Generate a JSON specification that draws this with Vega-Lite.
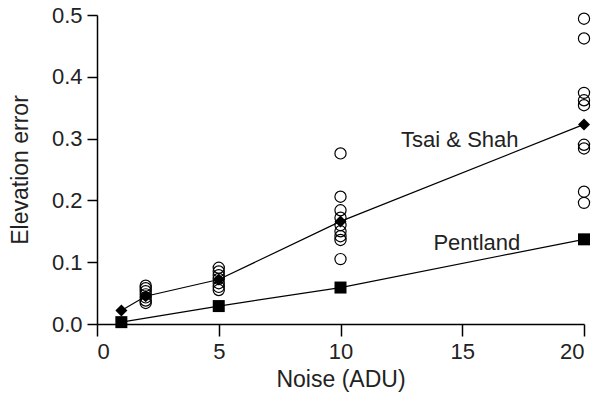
{
  "$schema": "https://vega.github.io/schema/vega-lite/v6.json",
  "width": 487,
  "height": 309,
  "autosize": {"type": "none"},
  "padding": {"left": 97, "top": 15, "right": 18, "bottom": 73},
  "background": "white",
  "config": {
    "view": {"stroke": null},
    "font": "Liberation Sans",
    "axis": {
      "grid": false,
      "domainColor": "black",
      "tickColor": "black",
      "labelColor": "#222222",
      "titleColor": "#222222",
      "labelFont": "Liberation Sans",
      "titleFont": "Liberation Sans",
      "labelFontSize": 22,
      "titleFontSize": 23,
      "titleFontWeight": "normal",
      "domainWidth": 1.5,
      "tickWidth": 1.5
    }
  },
  "datasets": {
    "obs": [
      {"x": 2, "y": 0.062}, {"x": 2, "y": 0.058}, {"x": 2, "y": 0.053}, {"x": 2, "y": 0.048}, {"x": 2, "y": 0.043}, {"x": 2, "y": 0.038}, {"x": 2, "y": 0.034},
      {"x": 5, "y": 0.091}, {"x": 5, "y": 0.085}, {"x": 5, "y": 0.079}, {"x": 5, "y": 0.073}, {"x": 5, "y": 0.066}, {"x": 5, "y": 0.06}, {"x": 5, "y": 0.055},
      {"x": 10, "y": 0.276}, {"x": 10, "y": 0.206}, {"x": 10, "y": 0.184}, {"x": 10, "y": 0.172}, {"x": 10, "y": 0.16}, {"x": 10, "y": 0.15}, {"x": 10, "y": 0.142}, {"x": 10, "y": 0.136}, {"x": 10, "y": 0.105},
      {"x": 20, "y": 0.494}, {"x": 20, "y": 0.462}, {"x": 20, "y": 0.374}, {"x": 20, "y": 0.362}, {"x": 20, "y": 0.354}, {"x": 20, "y": 0.29}, {"x": 20, "y": 0.284}, {"x": 20, "y": 0.214}, {"x": 20, "y": 0.196}
    ],
    "fits": [
      {"series": "Tsai & Shah", "x": 1, "y": 0.022},
      {"series": "Tsai & Shah", "x": 2, "y": 0.045},
      {"series": "Tsai & Shah", "x": 5, "y": 0.072},
      {"series": "Tsai & Shah", "x": 10, "y": 0.166},
      {"series": "Tsai & Shah", "x": 20, "y": 0.323},
      {"series": "Pentland", "x": 1, "y": 0.003},
      {"series": "Pentland", "x": 5, "y": 0.029},
      {"series": "Pentland", "x": 10, "y": 0.059},
      {"series": "Pentland", "x": 20, "y": 0.137}
    ],
    "labels": [
      {"label": "Tsai & Shah", "x": 14.9, "y": 0.2864},
      {"label": "Pentland", "x": 15.6, "y": 0.1197}
    ]
  },
  "encoding": {
    "x": {
      "field": "x", "type": "quantitative",
      "scale": {"domain": [0, 20], "nice": false},
      "axis": {"values": [0, 5, 10, 15, 20], "title": "Noise (ADU)", "tickSize": 12, "labelPadding": 5, "titlePadding": 6}
    },
    "y": {
      "field": "y", "type": "quantitative",
      "scale": {"domain": [0, 0.5], "nice": false},
      "axis": {"values": [0, 0.1, 0.2, 0.3, 0.4, 0.5], "format": ".1f", "title": "Elevation error", "tickSize": 10, "labelPadding": 5, "titlePadding": 19}
    }
  },
  "layer": [
    {
      "data": {"name": "obs"},
      "mark": {"type": "point", "shape": "circle", "filled": false, "size": 125, "stroke": "black", "strokeWidth": 1.2, "opacity": 1}
    },
    {
      "data": {"name": "fits"},
      "mark": {"type": "line", "color": "black", "strokeWidth": 1.2},
      "encoding": {"detail": {"field": "series"}}
    },
    {
      "data": {"name": "fits"},
      "mark": {"type": "point", "filled": true, "size": 144, "color": "black", "opacity": 1},
      "encoding": {
        "shape": {"field": "series", "type": "nominal", "scale": {"domain": ["Tsai & Shah", "Pentland"], "range": ["diamond", "square"]}, "legend": null}
      }
    },
    {
      "data": {"name": "labels"},
      "mark": {"type": "text", "fontSize": 22, "color": "#222222", "font": "Liberation Sans", "baseline": "alphabetic"},
      "encoding": {"text": {"field": "label"}}
    }
  ]
}
